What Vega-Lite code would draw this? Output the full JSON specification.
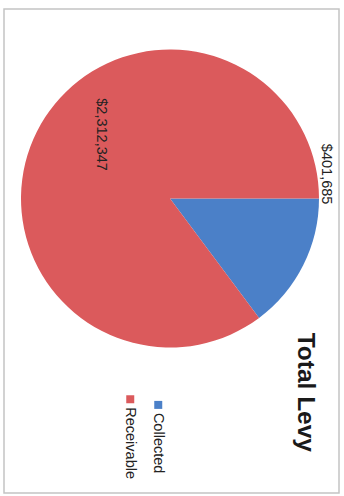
{
  "$schema": "https://vega.github.io/schema/vega-lite/v6.json",
  "width": 335,
  "height": 484,
  "autosize": {"type": "none"},
  "padding": {"left": 4, "top": 9, "right": 5, "bottom": 3},
  "background": "white",
  "view": {"stroke": "#c4c4c4", "strokeWidth": 1.5, "fill": "white"},
  "config": {"font": "Liberation Sans"},
  "title": {
    "text": "Total Levy",
    "orient": "right",
    "anchor": "end",
    "offset": -47,
    "dx": -41,
    "fontSize": 24.5,
    "font": "Liberation Sans",
    "fontWeight": "bold",
    "color": "#1a1a1a"
  },
  "data": {
    "values": [
      {"category": "Collected", "value": 401685},
      {"category": "Receivable", "value": 2312347}
    ]
  },
  "encoding": {
    "theta": {"field": "value", "type": "quantitative", "stack": true, "scale": {"range": [1.5708, 7.854]}}
  },
  "layer": [
    {
      "mark": {"type": "arc", "radius": 149, "xOffset": -1.5, "yOffset": -52.5},
      "encoding": {
        "color": {
          "field": "category",
          "type": "nominal",
          "scale": {"domain": ["Collected", "Receivable"], "range": ["#4b80c8", "#db5a5c"]},
          "legend": {
            "orient": "none",
            "legendX": 119,
            "legendY": 383,
            "direction": "horizontal",
            "values": ["Receivable", "Collected"],
            "title": null,
            "symbolType": "square",
            "symbolSize": 64,
            "symbolStrokeWidth": 0,
            "labelFontSize": 14.5,
            "labelFont": "Liberation Sans",
            "labelColor": "#222222",
            "labelOffset": -8,
            "columnPadding": 13,
            "labelAlign": "left",
            "labelBaseline": "middle",
            "padding": 0,
            "encoding": {"labels": {"angle": {"value": 90}, "dx": {"value": 8}}}
          }
        }
      }
    },
    {
      "mark": {"type": "text", "radius": 158, "thetaOffset": -0.62, "angle": 90, "fontSize": 14.5, "xOffset": -1.5, "yOffset": -52.5, "color": "#222222", "font": "Liberation Sans"},
      "encoding": {
        "text": {"condition": {"test": "datum.category === 'Collected'", "field": "value", "type": "quantitative", "format": "$,.0f"}, "value": ""}
      }
    },
    {
      "mark": {"type": "text", "radius": 94, "thetaOffset": 0.283, "angle": 90, "fontSize": 14.5, "xOffset": -1.5, "yOffset": -52.5, "color": "#222222", "font": "Liberation Sans"},
      "encoding": {
        "text": {"condition": {"test": "datum.category === 'Receivable'", "field": "value", "type": "quantitative", "format": "$,.0f"}, "value": ""}
      }
    }
  ]
}
